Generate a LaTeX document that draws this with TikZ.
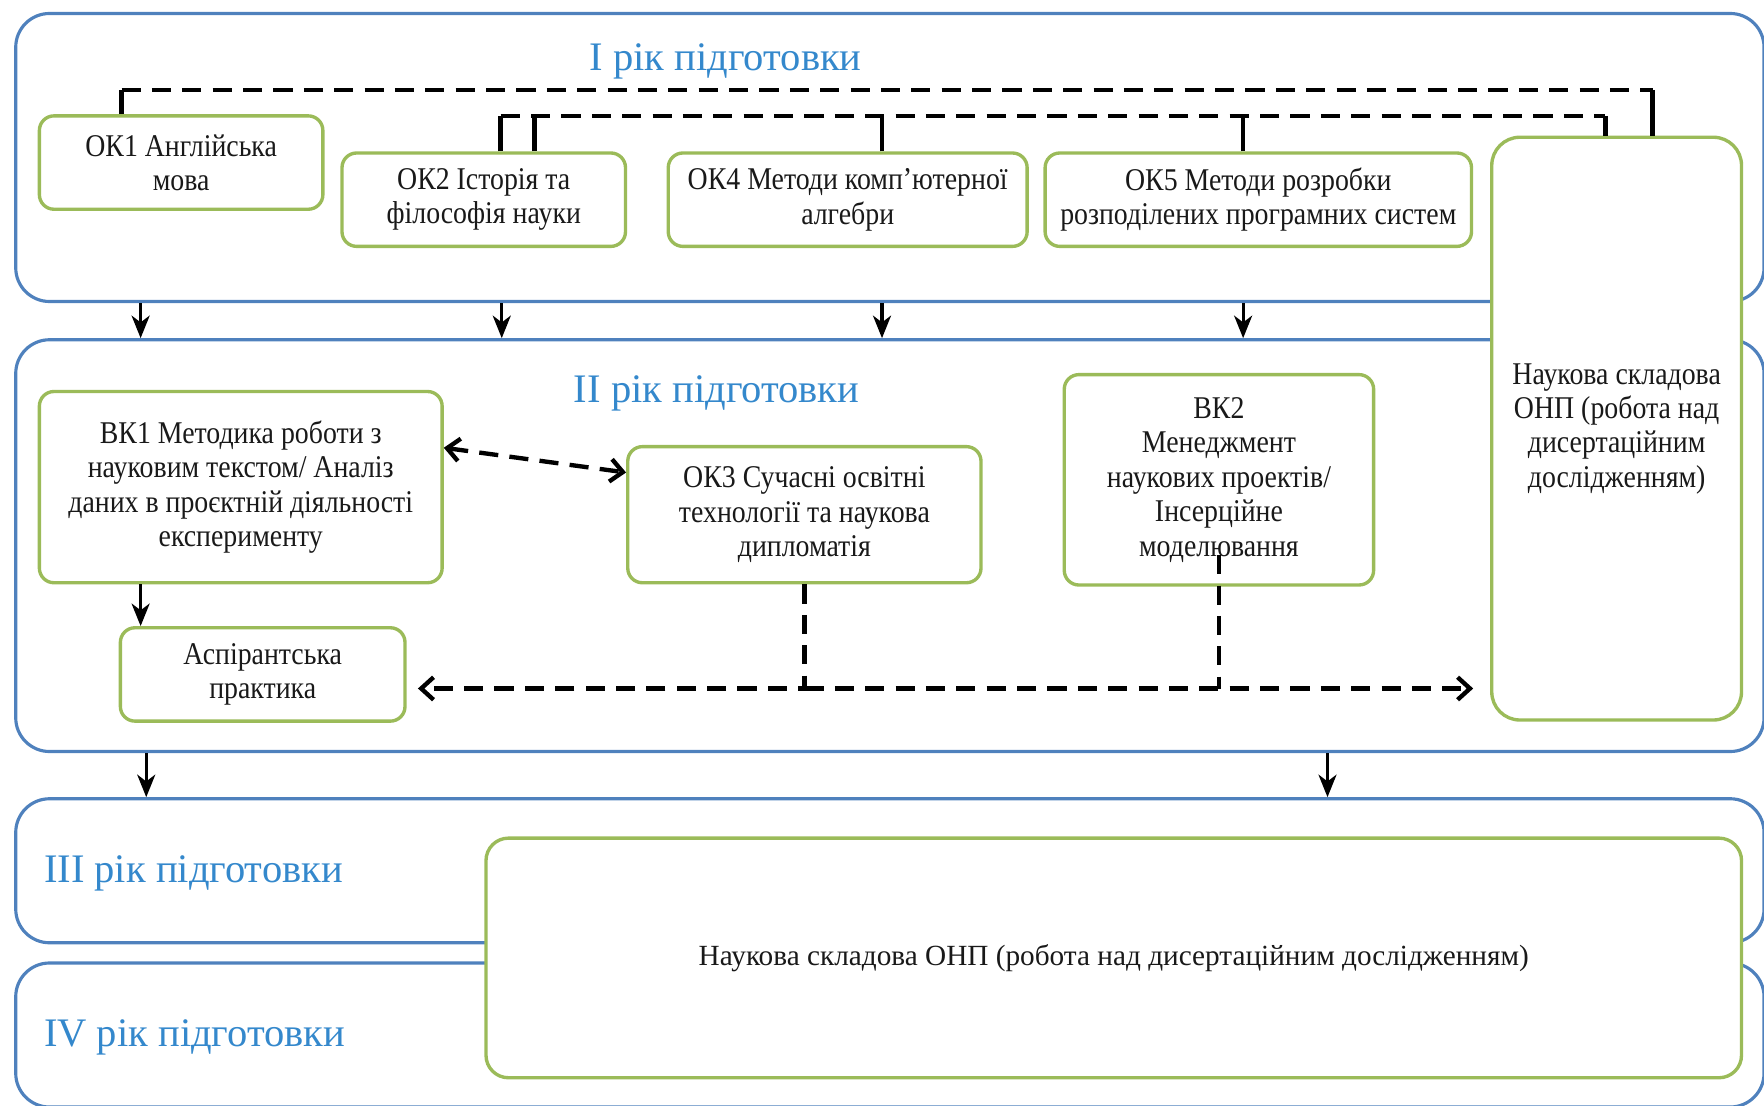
\documentclass[tikz,border=0pt]{standalone}
\usepackage{fontspec}
\setmainfont{Liberation Serif}[FakeStretch=0.88]
\newfontfamily\yearfont{Liberation Serif}
\usetikzlibrary{positioning, arrows.meta}

\definecolor{frameblue}{RGB}{79,129,189}
\definecolor{boxgreen}{RGB}{155,187,89}
\definecolor{yearblue}{RGB}{52,136,204}

\tikzset{
  yearframe/.style={draw=frameblue, line width=1.6pt, rounded corners=6mm, minimum width=310.8mm, inner sep=0pt},
  course/.style={draw=boxgreen, line width=1.7pt, rounded corners=2.6mm, fill=white, align=center, text=black!90, font=\fontsize{16}{17.4}\selectfont, inner sep=1pt},
  yearlabel/.style={text=yearblue, font=\yearfont\fontsize{20.5}{24}\selectfont},
  arr/.style={line width=1.6pt, -{Stealth[length=4mm, width=3.2mm, inset=1.2mm]}},
  tick/.style={line width=2.2pt},
  dashline/.style={line width=2.2pt, dash pattern=on 3.4mm off 2mm, >={Straight Barb[length=2.2mm, width=4mm]}}
}

\begin{document}
\begin{tikzpicture}[x=0.2mm, y=-0.2mm]
    \useasboundingbox (0,0) rectangle (1568,983);
    % year frames
    \node (Y1) [yearframe, minimum height=51.2mm] at (791,140) {};
    \node (Y2) [yearframe, minimum height=73.2mm] at (791,485) {};
    \node (Y3) [yearframe, minimum height=25.6mm] at (791,774) {};
    \node (Y4) [yearframe, minimum height=25.6mm] at (791,920) {};
    \node (L1) [yearlabel] at (645,55) {I рік підготовки};
    \node (L2) [yearlabel] at (637,350) {II рік підготовки};
    \node (L3) [yearlabel] at (172,776) {III рік підготовки};
    \node (L4) [yearlabel] at (173,922) {IV рік підготовки};
    % courses
    \node (OK1) [course, minimum width=50.4mm, minimum height=16.6mm] at (161,144.5) {ОК1 Англійська\\мова};
    \node (OK2) [course, minimum width=50.4mm, minimum height=16.6mm] at (430,177.5) {ОК2 Історія та\\філософія науки};
    \node (OK4) [course, minimum width=63.8mm, minimum height=16.6mm] at (753.5,177.5) {ОК4 Методи комп’ютерної\\алгебри};
    \node (OK5) [course, minimum width=75.8mm, minimum height=16.6mm] at (1118.5,177.5) {ОК5 Методи розробки\\розподілених програмних систем};
    \node (NS) [course, rounded corners=5mm, minimum width=44.4mm, minimum height=103.6mm] at (1437,381) {Наукова складова\\ОНП (робота над\\дисертаційним\\дослідженням)};
    \node (BK1) [course, minimum width=71.6mm, minimum height=34mm] at (214,433) {ВК1 Методика роботи з\\науковим текстом/ Аналіз\\даних в проєктній діяльності\\експерименту};
    \node (OK3) [course, minimum width=62.8mm, minimum height=24.2mm] at (715,457.5) {ОК3 Сучасні освітні\\технології та наукова\\дипломатія};
    \node (BK2) [course, minimum width=55mm, minimum height=37.4mm] at (1083.5,426.5) {ВК2\\Менеджмент\\наукових проектів/\\Інсерційне\\моделювання};
    \node (ASP) [course, minimum width=50.6mm, minimum height=16.6mm] at (233.5,599.5) {Аспірантська\\практика};
    \node (NSB) [course, rounded corners=4mm, minimum width=223.2mm, minimum height=42.6mm, font=\yearfont\fontsize{14.8}{17}\selectfont] at (990,851.5) {Наукова складова ОНП (робота над дисертаційним дослідженням)};
    % links to the research component
    \coordinate (c1) at (108,80);
    \coordinate (c2) at (445,103);
    \path ([xshift=6.4mm]NS.north) coordinate (n1) ([xshift=-2mm]NS.north) coordinate (n2);
    \draw [tick] (OK1.north -| c1) -- (c1);
    \draw [dashline] (c1) -- (c1 -| n1);
    \draw [tick] (c1 -| n1) -- (n1);
    \draw [tick] (OK2.north -| c2) -- (c2);
    \draw [dashline] (c2) -- (c2 -| n2);
    \draw [tick] (c2 -| n2) -- (n2);
    \draw [tick] (OK2.north -| 475,0) -- (c2 -| 475,0);
    \draw [tick] (OK4.north -| 784,0) -- (c2 -| 784,0);
    \draw [tick] (OK5.north -| 1105,0) -- (c2 -| 1105,0);
    % arrows between years
    \foreach \x in {125,446,784,1105}
        \draw [arr] (Y1.south -| \x,0) -- (Y2.north -| \x,0);
    \foreach \x in {130,1180}
        \draw [arr] (Y2.south -| \x,0) -- (Y3.north -| \x,0);
    % links inside year II
    \draw [dashline, <->] ([yshift=7mm]BK1.east) -- ([yshift=7.5mm]OK3.west);
    \draw [arr] (BK1.south -| 125,0) -- (ASP.north -| 125,0);
    \path ([yshift=-2.5mm]ASP.east) coordinate (a1);
    \draw [dashline, ->, shorten >=2mm] (OK3.south) |- (a1);
    \draw [dashline, ->, shorten >=3mm] (OK3.south |- a1) -- (NS.west |- a1);
    \draw [dashline] ([yshift=5.6mm]BK2.south) -- (BK2.south |- a1);
\end{tikzpicture}
\end{document}
